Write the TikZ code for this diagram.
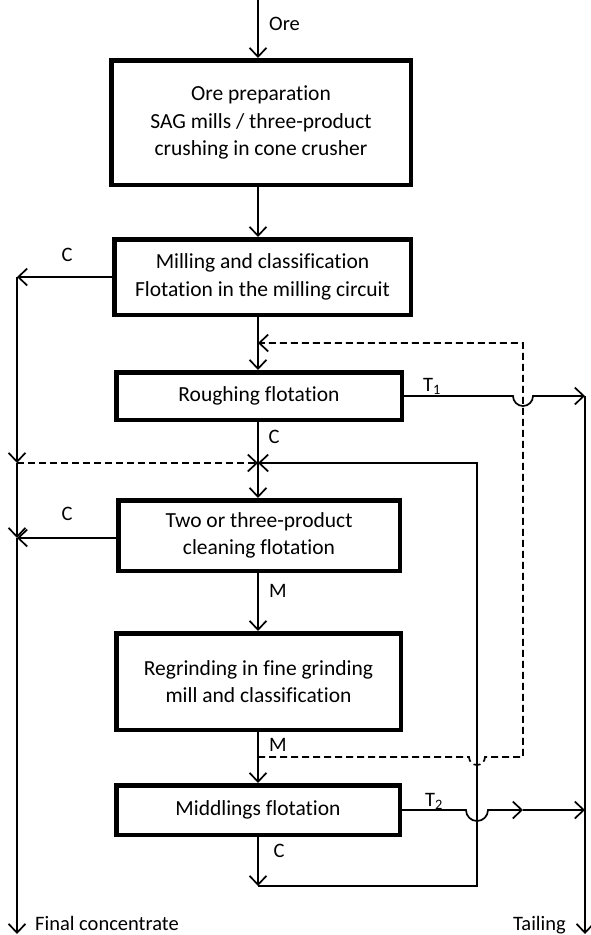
\documentclass[tikz,border=0pt]{standalone}
\usepackage{fontspec}
\setmainfont[Ligatures=NoCommon]{Carlito}
\usetikzlibrary{arrows.meta}
\begin{document}
\begin{tikzpicture}[x=1pt,y=1pt,
  proc/.style={draw,line width=4.5pt,align=center,inner sep=0pt,
    font=\fontsize{21.5}{27.5}\selectfont},
  flow/.style={line width=1.7pt},
  arr/.style={flow,-{Straight Barb[length=9pt,width=17pt]}},
  dashflow/.style={flow,dash pattern=on 7pt off 4pt},
  lbl/.style={inner sep=0pt,font=\fontsize{20.5}{23}\selectfont}
]
\useasboundingbox (0,0) rectangle (590,-935);

% process boxes
\node[proc,minimum width=299.5pt,minimum height=124.5pt] (prep) at (261,-122.5)
  {Ore preparation\\SAG mills / three-product\\crushing in cone crusher};
\node[proc,minimum width=296.5pt,minimum height=75.5pt] (mill) at (262.5,-277)
  {Milling and classification\\Flotation in the milling circuit};
\node[proc,minimum width=285.5pt,minimum height=47.5pt] (rough) at (259,-396)
  {Roughing flotation};
\node[proc,minimum width=281.5pt,minimum height=70.5pt] (clean) at (259,-535.5)
  {Two or three-product\\cleaning flotation};
\node[proc,minimum width=284.5pt,minimum height=96.5pt] (regr) at (258.5,-681.5)
  {Regrinding in fine grinding\\mill and classification};
\node[proc,minimum width=283.5pt,minimum height=49.5pt] (midd) at (258,-810)
  {Middlings flotation};

% coordinates
\coordinate (orein) at (258,0);
\coordinate (lc2) at (17,-277);
\coordinate (ld) at (17,-463);
\coordinate (lc4) at (17,-538);
\coordinate (fcend) at (17,-934);
\coordinate (j1) at (258,-463);
\coordinate (dJ) at (258,-343);
\coordinate (dT) at (523,-343);
\coordinate (dR) at (523,-757);
\coordinate (dM) at (258,-757);
\coordinate (dh) at (469,-757);
\coordinate (rT) at (477,-463);
\coordinate (rB) at (477,-886);
\coordinate (cB) at (258,-886);
\coordinate (h1) at (513,-396);
\coordinate (tl1) at (585,-396);
\coordinate (tailend) at (585,-934);
\coordinate (h2) at (466,-810);
\coordinate (t2m) at (523,-810);
\coordinate (tl2) at (585,-810);

% main line
\draw[arr] (orein) -- (orein |- prep.north);
\draw[arr] (orein |- prep.south) -- (orein |- mill.north);
\draw[arr] (orein |- mill.south) -- (orein |- rough.north);
\draw[flow] (orein |- rough.south) -- (j1);
\draw[arr] (j1) -- (orein |- clean.north);
\draw[arr] (orein |- clean.south) -- (orein |- regr.north);
\draw[arr] (orein |- regr.south) -- (orein |- midd.north);
\draw[arr] (orein |- midd.south) -- (cB);

% concentrate side
\draw[arr] (mill.west |- lc2) -- (lc2);
\draw[arr] (lc2) -- (ld);
\draw[arr] (ld) -- (lc4);
\draw[arr] (lc4) -- (fcend);
\draw[arr] (clean.west |- lc4) -- (lc4);
\draw[dashflow,-{Straight Barb[length=9pt,width=17pt]}] (ld) -- (j1);

% middlings recycle
\draw[arr] (cB) -- (rB) -- (rT) -- (j1);
\draw[dashflow,-{Straight Barb[length=9pt,width=17pt]}] (dM) -- (dh)
  arc[start angle=180,end angle=360,radius=8] -- (dR) -- (dT) -- (dJ);

% tailings
\draw[arr] (rough.east |- h1) -- (h1) arc[start angle=180,end angle=360,radius=10] -- (tl1);
\draw[arr] (tl1) -- (tailend);
\draw[arr] (midd.east |- h2) -- (h2) arc[start angle=180,end angle=360,radius=11] -- (t2m);
\draw[arr] (t2m) -- (tl2);

% labels
\node[lbl,anchor=west] (lore) at (269,-24) {Ore};
\node[lbl] (lc2l) at (67,-255) {C};
\node[lbl] (lt1) at (432,-386) {T\textsubscript{1}};
\node[lbl] (lcr) at (274,-437) {C};
\node[lbl] (lc4l) at (67,-514) {C};
\node[lbl] (lm1) at (278,-591) {M};
\node[lbl] (lm2) at (278,-745) {M};
\node[lbl] (lt2) at (434,-801) {T\textsubscript{2}};
\node[lbl] (lc6) at (279,-851) {C};
\node[lbl,anchor=base west] (lfc) at (35,-930) {Final concentrate};
\node[lbl,anchor=base east] (ltail) at (566,-930) {Tailing};
\end{tikzpicture}
\end{document}
